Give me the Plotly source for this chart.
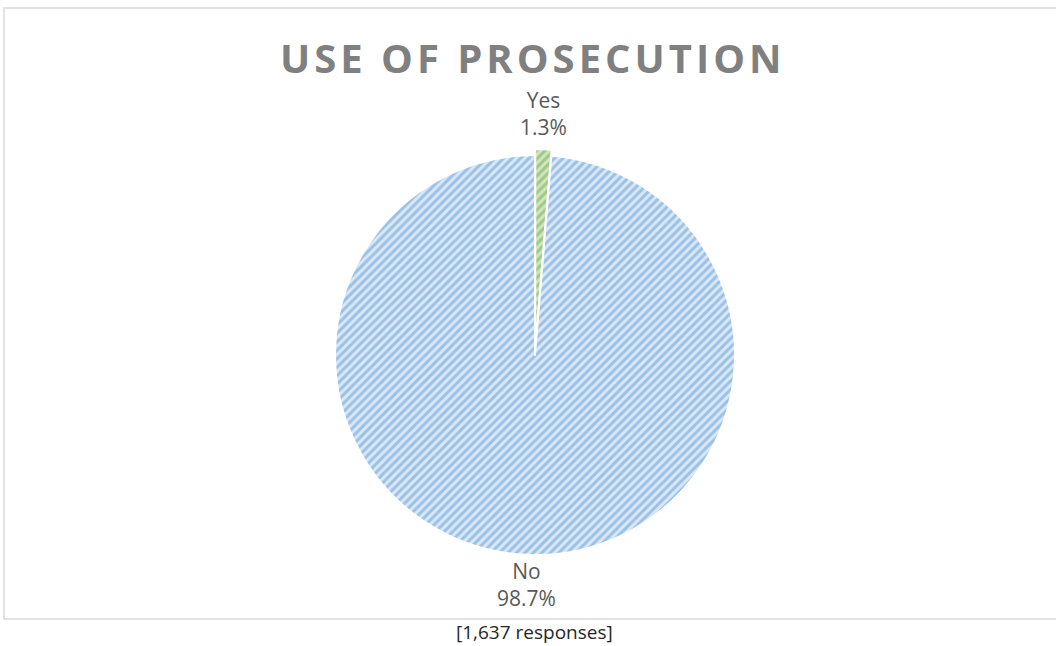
import math
import plotly.graph_objects as go

labels = ["Yes", "No"]
values = [1.3, 98.7]
fg_colors = ["#70ad47", "#5b9bd5"]
bg_colors = ["#cfe5c0", "#d9e7f6"]
pulls = [0.03, 0]

title_text = "USE OF PROSECUTION"
note_text = "[1,637 responses]"

W, H = 1056, 646
cx, cy, r = 535, 355, 200
rd = r * (1 + max(pulls))

fig = go.Figure(go.Pie(
    labels=labels,
    values=values,
    sort=False,
    direction="clockwise",
    rotation=0,
    pull=pulls,
    textinfo="none",
    marker=dict(
        colors=bg_colors,
        line=dict(color="white", width=2),
        pattern=dict(shape="/", fgcolor=fg_colors, bgcolor=bg_colors,
                     size=6, solidity=0.5, fillmode="overlay"),
    ),
    domain=dict(x=[(cx - rd) / W, (cx + rd) / W], y=[1 - (cy + rd) / H, 1 - (cy - rd) / H]),
    showlegend=False,
    hoverinfo="label+percent",
))

# data labels placed outside each slice, at the slice's mid-angle (clockwise from 12 o'clock)
total = sum(values)
label_anns = []
cum = 0.0
for lab, v in zip(labels, values):
    mid = (cum + v / 2) / total * 2 * math.pi
    cum += v
    upper = math.cos(mid) > 0
    R = r + (13 if upper else 1)
    px = cx + math.sin(mid) * R
    py = cy - math.cos(mid) * R
    label_anns.append(dict(
        text=f"{lab}<br>{v / total * 100:.1f}%",
        x=px / W, y=1 - py / H, xref="paper", yref="paper",
        showarrow=False, xanchor="center", yanchor="bottom" if upper else "top",
        align="center", borderpad=0,
        font=dict(family="Open Sans", size=21, color="#595959"),
    ))

fig.update_layout(
    width=W, height=H,
    margin=dict(l=0, r=0, t=0, b=0),
    paper_bgcolor="white",
    plot_bgcolor="white",
    showlegend=False,
    shapes=[dict(type="rect", xref="paper", yref="paper",
                 x0=4 / W, x1=1.01, y0=1 - 619 / H, y1=1 - 8 / H,
                 line=dict(color="#d9d9d9", width=1.5), fillcolor="rgba(0,0,0,0)", layer="below")],
    annotations=[
        dict(text="<b>" + title_text + "</b>", x=533 / W, y=1 - 57 / H, xref="paper", yref="paper",
             showarrow=False, xanchor="center", yanchor="middle", borderpad=0,
             font=dict(family="Open Sans", size=40, color="#808080")),
        dict(text=note_text, x=534 / W, y=1 - 632 / H, xref="paper", yref="paper",
             showarrow=False, xanchor="center", yanchor="middle", borderpad=0,
             font=dict(family="Open Sans", size=19, color="#262626")),
    ] + label_anns,
)

post = """
document.body.style.margin = '0px';
var t = document.querySelectorAll('.annotation-text');
if (t.length) { t[0].style.letterSpacing = '4px'; }
"""

fig.write_html("out.html", post_script=post, config={"displayModeBar": False})
